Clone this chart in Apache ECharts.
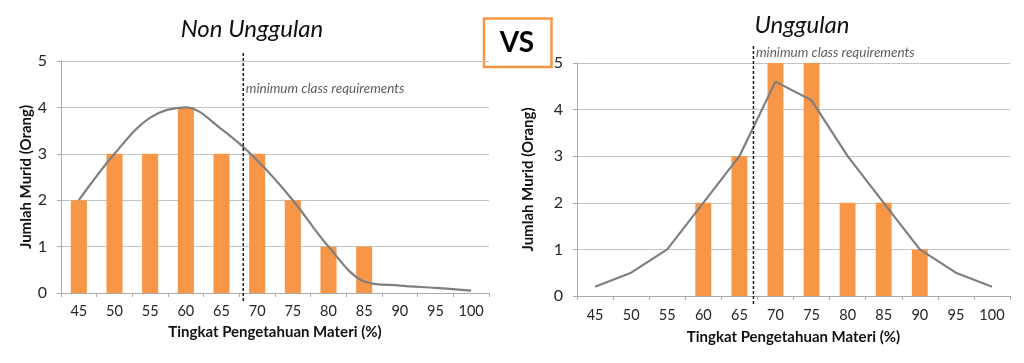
<!DOCTYPE html>
<html>
<head>
<meta charset="utf-8">
<script src="https://cdn.jsdelivr.net/npm/echarts@6/dist/echarts.min.js"></script>
<style>
html,body{margin:0;padding:0;background:#fff;}
#chart{width:1024px;height:363px;}
</style>
</head>
<body>
<div id="chart"></div>
<script>
// ---- data ----
const categories = ['45','50','55','60','65','70','75','80','85','90','95','100'];
const nonUnggulanBars = [2,3,3,4,3,3,2,1,1,0,0,0];
const nonUnggulanCurve = [2,3,3.78,4,3.53,2.86,2,1,0.25,0.16,0.11,0.05];
const unggulanBars = [0,0,0,2,3,5,5,2,2,1,0,0];
const unggulanCurve = [0.2,0.5,1,2,3,4.6,4.2,3,2,1,0.5,0.2];
const yTicks = [0,1,2,3,4,5];
const nonUnggulanMin = 68.05;   // position of "minimum class requirements" on the % scale
const unggulanMin = 66.95;
const minLabel = 'minimum class requirements';
const titles = ['Non Unggulan', 'Unggulan'];
const xName = 'Tingkat Pengetahuan Materi (%)';
const yName = 'Jumlah Murid (Orang)';

const FONT = 'Lato, "Open Sans", sans-serif';
const ORANGE = '#F79646';
const GRID_C = '#C4C4C4';
const AXIS_C = '#ABABAB';
const TXT = '#262626';

const chart = echarts.init(document.getElementById('chart'), null, {renderer:'canvas'});

function catAxis(gi, gap, margin){
  return {
    type:'category', gridIndex:gi, data:categories, boundaryGap:true,
    axisLine:{show:true, lineStyle:{color:AXIS_C, width:1}},
    axisTick:{show:true, length:4, alignWithLabel:false, lineStyle:{color:AXIS_C}},
    axisLabel:{color:TXT, fontFamily:FONT, fontSize:14.5, margin:margin, interval:0},
    name:xName, nameLocation:'middle', nameGap:gap,
    nameTextStyle:{fontFamily:FONT, fontSize:15, fontWeight:'bold', color:'#111'},
    splitLine:{show:false}
  };
}
function valXAxis(gi){
  return {type:'value', gridIndex:gi, min:42.5, max:102.5, show:false};
}
function yAxis(gi, gap){
  return {
    type:'value', gridIndex:gi, min:yTicks[0], max:yTicks[yTicks.length-1], interval:1,
    axisLine:{show:true, lineStyle:{color:AXIS_C}},
    axisTick:{show:true, length:4, lineStyle:{color:AXIS_C}},
    axisLabel:{color:TXT, fontFamily:FONT, fontSize:16, margin:14},
    splitLine:{show:true, lineStyle:{color:GRID_C, width:1}},
    name:yName, nameLocation:'middle', nameGap:gap, nameRotate:90,
    nameTextStyle:{fontFamily:FONT, fontSize:15, fontWeight:'bold', color:'#111'}
  };
}
function minSeries(xi, yi, x, top, labelY){
  return [{
    type:'line', xAxisIndex:xi, yAxisIndex:yi, clip:false, silent:true,
    data:[[x,-0.17],[x,top]], symbol:'none',
    lineStyle:{color:'#1a1a1a', width:1.5, type:[3,2]}, z:5
  },{
    type:'scatter', xAxisIndex:xi, yAxisIndex:yi, clip:false, silent:true,
    data:[[x,labelY]], symbolSize:1, itemStyle:{color:'rgba(0,0,0,0)'},
    label:{show:true, position:'right', distance:2, formatter:minLabel,
      fontFamily:FONT, fontStyle:'italic', fontSize:13.5, color:'#333'}
  }];
}

const option = {
  animation:false,
  backgroundColor:'#fff',
  grid:[
    {left:61, right:535, top:61, bottom:70},
    {left:577, right:14, top:63, bottom:67}
  ],
  xAxis:[catAxis(0, 32, 11), catAxis(1, 34, 11.5), valXAxis(0), valXAxis(1)],
  yAxis:[yAxis(0, 26), yAxis(1, 41)],
  series:[
    {type:'bar', xAxisIndex:0, yAxisIndex:0, data:nonUnggulanBars, barWidth:'45%', itemStyle:{color:ORANGE}},
    {type:'line', xAxisIndex:0, yAxisIndex:0, data:nonUnggulanCurve, smooth:0.35, symbol:'none',
      lineStyle:{color:'#7F7F7F', width:2.2}, z:4},
    {type:'bar', xAxisIndex:1, yAxisIndex:1, data:unggulanBars, barWidth:'44%', itemStyle:{color:ORANGE}},
    {type:'line', xAxisIndex:1, yAxisIndex:1, data:unggulanCurve, smooth:false, symbol:'none',
      lineStyle:{color:'#7F7F7F', width:2.2}, z:4},
    ...minSeries(2, 0, nonUnggulanMin, 5.17, 4.41),
    ...minSeries(3, 1, unggulanMin, 5.38, 5.22)
  ],
  graphic:[
    {type:'text', x:252, y:29, style:{text:titles[0], font:'italic 24px ' + FONT, fill:'#111', align:'center', verticalAlign:'middle'}},
    {type:'text', x:802, y:25, style:{text:titles[1], font:'italic 24px ' + FONT, fill:'#111', align:'center', verticalAlign:'middle'}},
    {type:'rect', shape:{x:484, y:18.5, width:67.5, height:48.5}, style:{fill:'#fff', stroke:ORANGE, lineWidth:2.5}},
    {type:'text', x:517, y:43, style:{text:'VS', font:'bold 28px ' + FONT, fill:'#000', align:'center', verticalAlign:'middle'}}
  ]
};
chart.setOption(option);
</script>
</body>
</html>
